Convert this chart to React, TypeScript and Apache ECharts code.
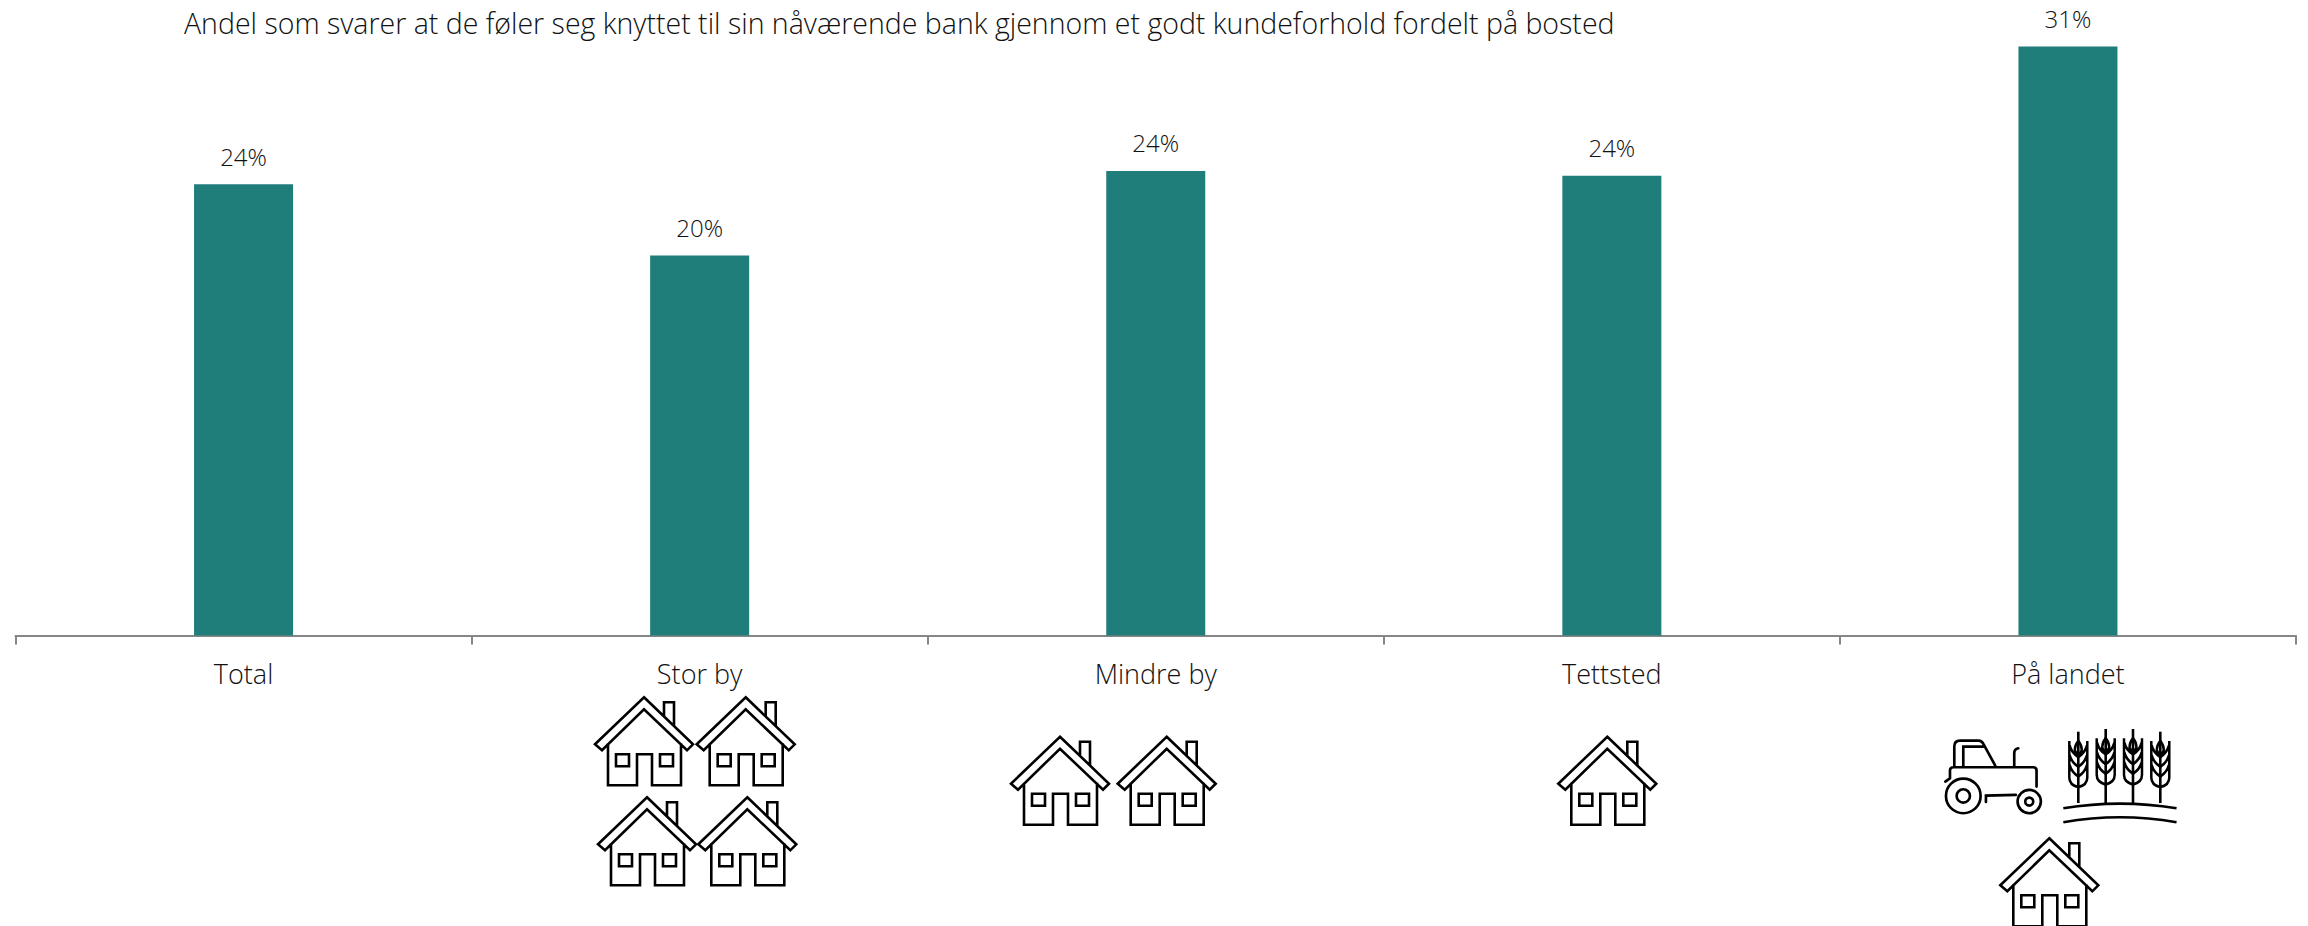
import React, { useEffect, useRef } from "react";
import * as echarts from "echarts";

const titleText = "Andel som svarer at de føler seg knyttet til sin nåværende bank gjennom et godt kundeforhold fordelt på bosted";
const categories = ["Total", "Stor by", "Mindre by", "Tettsted", "På landet"];
const values = [23.75, 20.0, 24.45, 24.2, 31.0];
const valueLabels = ["24%", "20%", "24%", "24%", "31%"];

const FONT = "'Open Sans', 'Noto Sans', sans-serif";
const INK = "#111111";

const housePath =
  "M0 0 L49 47 L43 53 L0 12 L-42 53 L-49 47 Z " +
  "M-36 46 L-36 88 L-7 88 L-7 57 L8 57 L8 88 L37 88 L37 46 " +
  "M-28 57 L-15 57 L-15 69 L-28 69 Z " +
  "M16 57 L29 57 L29 69 L16 69 Z " +
  "M20 19 L20 5 L30 5 L30 29";

const tractorPath =
  "M76 245 L90 235 L90 212 Q90 202 100 202 L340 202 Q350 202 350 212 L350 260 " +
  "M103 200 L103 140 Q103 122 120 122 L176 122 Q186 122 192 135 L226 197 " +
  "M130 200 L130 140 L190 140 " +
  "M283 200 L283 160 Q283 147 295 145 " +
  "M198 306 L198 287 L288 285 " +
  "M78 288 A52 52 0 1 1 182 288 A52 52 0 1 1 78 288 Z " +
  "M110 288 A20 20 0 1 1 150 288 A20 20 0 1 1 110 288 Z " +
  "M293 305 A35 35 0 1 1 363 305 A35 35 0 1 1 293 305 Z " +
  "M316 305 A12 12 0 1 1 340 305 A12 12 0 1 1 316 305 Z";

const wheatHeadPath =
  "M-27 12 L-27 112 M27 12 L27 112 " +
  "M0 12 Q12 26 10 38 Q6 46 0 48 Q-6 46 -10 38 Q-12 26 0 12 Z " +
  "M-26 24 Q-20 44 0 55 M26 24 Q20 44 0 55 " +
  "M-26 50 Q-20 70 0 81 M26 50 Q20 70 0 81 " +
  "M-26 76 Q-20 96 0 107 M26 76 Q20 96 0 107 " +
  "M-27 110 Q-27 130 0 136 M27 110 Q27 130 0 136";

const groundPath = "M10 250 Q180 222 350 250 M10 292 Q180 262 350 292";

echarts.graphic.registerShape("house", echarts.graphic.extendPath(housePath, {}) as any);
echarts.graphic.registerShape("tractor", echarts.graphic.extendPath(tractorPath, {}) as any);
echarts.graphic.registerShape("wheatHead", echarts.graphic.extendPath(wheatHeadPath, {}) as any);
echarts.graphic.registerShape("ground", echarts.graphic.extendPath(groundPath, {}) as any);

const houseApexes = [
  [644, 697.3],
  [745.7, 697.3],
  [647, 797.3],
  [747.3, 797.3],
  [1060, 736.7],
  [1166.7, 736.7],
  [1607.3, 736.7],
  [2049.3, 838.3],
];
const wheatHeads = [
  [2078.3, 736.5],
  [2105.7, 733.8],
  [2133, 733.8],
  [2160.3, 736.5],
];
const wheatStemTops = [731.7, 729, 729, 731.7];

const line = { stroke: "#000000", fill: "none" };

export default function App() {
  const ref = useRef<HTMLDivElement>(null);
  useEffect(() => {
    const chart = echarts.init(ref.current!, null, { renderer: "svg" });
    const graphics: any[] = [
      ...houseApexes.map(([x, y]) => ({
        type: "house", x, y, silent: true,
        style: { ...line, lineWidth: 2.6 },
      })),
      {
        type: "tractor", x: 1920, y: 700, scaleX: 1 / 3, scaleY: 1 / 3, silent: true,
        style: { ...line, lineWidth: 8, lineCap: "round" },
      },
      ...wheatHeads.map(([x, y]) => ({
        type: "wheatHead", x, y, scaleX: 1 / 3, scaleY: 0.373, silent: true,
        style: { ...line, lineWidth: 7.5 },
      })),
      ...wheatHeads.map(([x], i) => ({
        type: "line", silent: true,
        shape: { x1: x, y1: wheatStemTops[i], x2: x, y2: 803 },
        style: { stroke: "#000000", lineWidth: 2.6 },
      })),
      {
        type: "ground", x: 2060, y: 725, scaleX: 1 / 3, scaleY: 1 / 3, silent: true,
        style: { ...line, lineWidth: 8 },
      },
    ];
    chart.setOption({
      animation: false,
      backgroundColor: "#ffffff",
      title: {
        text: titleText, left: 179, top: 3,
        textStyle: { fontFamily: FONT, fontWeight: 300, fontSize: 28.5, color: INK },
      },
      grid: { left: 15.5, top: 27.5, width: 2280.5, height: 608, containLabel: false },
      xAxis: {
        type: "category", data: categories,
        axisLine: { lineStyle: { color: "#868686", width: 2 } },
        axisTick: { show: true, length: 9, lineStyle: { color: "#868686", width: 2 } },
        axisLabel: { margin: 24, fontFamily: FONT, fontWeight: 300, fontSize: 27, color: INK },
      },
      yAxis: { type: "value", min: 0, max: 32, show: false, splitLine: { show: false } },
      series: [{
        type: "bar", data: values, barWidth: 99,
        itemStyle: { color: "#1F7D7A" },
        label: {
          show: true, position: "top", distance: 16,
          formatter: (p: any) => valueLabels[p.dataIndex],
          fontFamily: FONT, fontWeight: 300, fontSize: 24, color: INK,
        },
      }],
      graphic: graphics,
    });
    return () => chart.dispose();
  }, []);
  return <div ref={ref} style={{ position: "absolute", left: 0, top: 0, width: 2308, height: 926 }} />;
}
